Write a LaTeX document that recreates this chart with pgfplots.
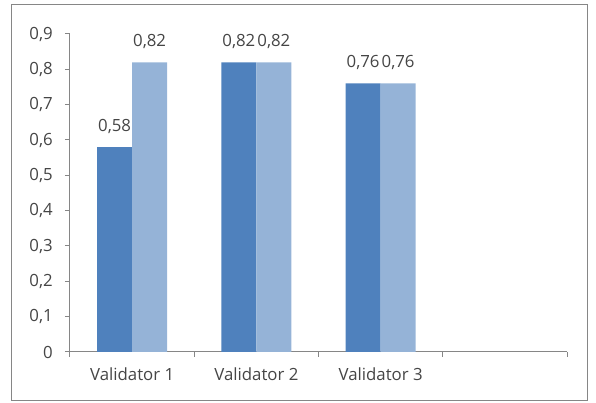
\documentclass[border=0pt]{standalone}
\usepackage{fontspec}
\setmainfont{Open Sans}
\usepackage{pgfplots}
\pgfplotsset{compat=1.18}
\definecolor{darkbar}{HTML}{4F81BD}
\definecolor{lightbar}{HTML}{95B3D7}
\definecolor{axisgray}{HTML}{868686}
\definecolor{textgray}{HTML}{454545}
\begin{document}
\begin{tikzpicture}
\useasboundingbox (-52.5pt,-38.25pt) rectangle (394.5pt,264pt);
\draw[axisgray, line width=0.75pt] (-43.5pt,-36.75pt) rectangle (387.75pt,260.25pt);
\begin{axis}[
    at={(0pt,0pt)}, anchor=south west,
    scale only axis, width=372.75pt, height=238.5pt,
    xmin=-0.5, xmax=3.5, ymin=0, ymax=0.9,
    axis x line*=bottom, axis y line*=left,
    axis line style={axisgray, line width=0.75pt},
    tick style={axisgray, line width=0.75pt},
    tick align=outside, major tick length=3.75pt,
    ytick={0,0.1,0.2,0.3,0.4,0.5,0.6,0.7,0.8,0.9},
    xtick={-0.5,0.5,1.5,2.5,3.5},
    xticklabels={,,,,},
    extra x ticks={0,1,2},
    extra x tick labels={Validator 1,Validator 2,Validator 3},
    extra x tick style={major tick length=0pt,
        xticklabel style={anchor=base, yshift=-21.5pt}},
    tick label style={font=\fontsize{12.6}{14}\selectfont, text=textgray},
    yticklabel style={anchor=east, inner sep=0pt},
    yticklabel shift=9pt,
    /pgf/number format/.cd, use comma, assume math mode=true,
    /pgfplots/.cd,
    yticklabel={\pgfmathprintnumber[fixed, precision=1]{\tick}},
    ybar=0pt, bar width=26.25pt,
    nodes near coords={\pgfmathprintnumber[fixed, fixed zerofill, precision=2]{\pgfplotspointmeta}},
    every node near coord/.append style={anchor=base, yshift=12pt, inner sep=0pt,
        font=\fontsize{12.6}{14}\selectfont, text=textgray},
    clip=false,
]
    % series 1
    \addplot[fill=darkbar, draw=none] coordinates {(0,0.58) (1,0.82) (2,0.76)};
    % series 2
    \addplot[fill=lightbar, draw=none] coordinates {(0,0.82) (1,0.82) (2,0.76)};
\end{axis}
\end{tikzpicture}
\end{document}
